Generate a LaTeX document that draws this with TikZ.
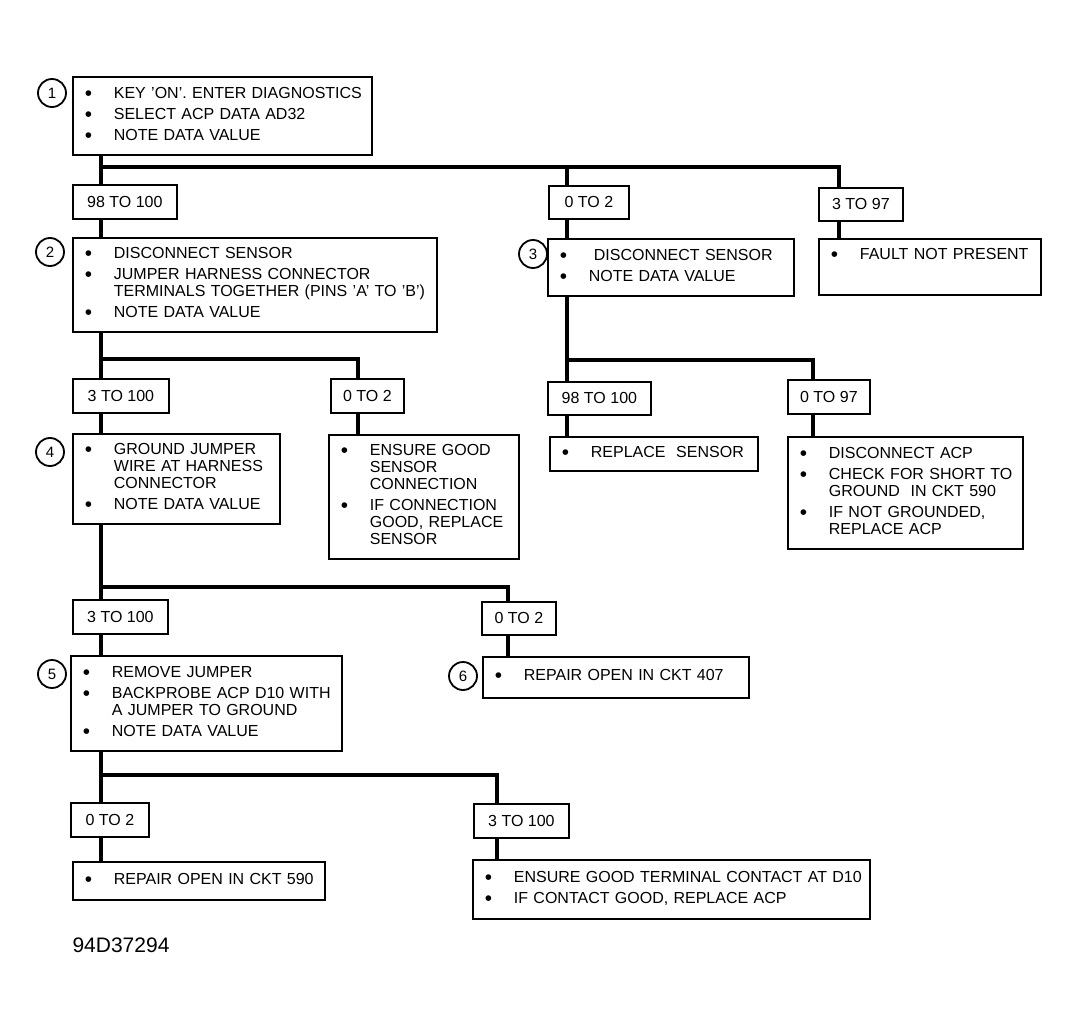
\documentclass[tikz,border=0pt]{standalone}
\usepackage{fontspec}
\setmainfont{Liberation Sans}
\usepackage{graphicx}
\tikzset{>=latex}
\tikzset{
  stepbox/.style={draw, line width=1.8pt, anchor=north west, align=left,
    inner xsep=12pt, inner ysep=0pt, font=\fontsize{16}{17}\selectfont},
  rangebox/.style={draw, line width=1.8pt, anchor=north west, inner sep=0pt,
    font=\fontsize{16}{17}\selectfont},
  num/.style={draw, circle, line width=1.8pt, minimum size=28pt, inner sep=0pt,
    font=\fontsize{15}{15}\selectfont},
  wire/.style={line width=4pt}
}
\newcommand{\bul}{\raisebox{-2pt}{\scalebox{1.3}{\textbullet}}}
\newcommand{\steplist}[1]{\begin{tabular}{@{}p{29pt}@{}l@{}}#1\end{tabular}}

\begin{document}
\begin{tikzpicture}[x=1pt,y=-1pt]
\useasboundingbox (0,0) rectangle (1077,1030);

% test steps
\node[stepbox, text width=275pt, minimum height=78pt] (b1) at (72,76) {\steplist{%
  \bul & KEY 'ON'. ENTER DIAGNOSTICS\\[4pt]
  \bul & SELECT ACP DATA AD32\\[4pt]
  \bul & NOTE DATA VALUE}};
\node[stepbox, text width=340pt, minimum height=94pt] (b2) at (72,237) {\steplist{%
  \bul & DISCONNECT SENSOR\\[4pt]
  \bul & JUMPER HARNESS CONNECTOR\\
       & TERMINALS TOGETHER (PINS 'A' TO 'B')\\[4pt]
  \bul & NOTE DATA VALUE}};
\node[stepbox, text width=222pt, minimum height=57pt] (b3) at (547,238) {\steplist{%
  \bul & \hspace*{5pt}DISCONNECT SENSOR\\[4pt]
  \bul & NOTE DATA VALUE}};
\node[stepbox, text width=198pt, minimum height=56pt] (b3r) at (818,238) {\steplist{%
  \bul & FAULT NOT PRESENT\\[4pt]
       & }};
\node[stepbox, text width=183pt, minimum height=90pt] (b4) at (72,433) {\steplist{%
  \bul & GROUND JUMPER\\
       & WIRE AT HARNESS\\
       & CONNECTOR\\[4pt]
  \bul & NOTE DATA VALUE}};
\node[stepbox, text width=166pt, minimum height=124pt] (b4r) at (328,434) {\steplist{%
  \bul & ENSURE GOOD\\
       & SENSOR\\
       & CONNECTION\\[4pt]
  \bul & IF CONNECTION\\
       & GOOD, REPLACE\\
       & SENSOR}};
\node[stepbox, text width=184pt, minimum height=34pt] (b3a) at (549,436) {\steplist{%
  \bul & REPLACE~ SENSOR}};
\node[stepbox, text width=211pt, minimum height=112pt] (b3b) at (787,436) {\steplist{%
  \bul & DISCONNECT ACP\\[4pt]
  \bul & CHECK FOR SHORT TO\\
       & GROUND~ IN CKT 590\\[4pt]
  \bul & IF NOT GROUNDED,\\
       & REPLACE ACP}};
\node[stepbox, text width=247pt, minimum height=95pt] (b5) at (70,655) {\steplist{%
  \bul & REMOVE JUMPER\\[4pt]
  \bul & BACKPROBE ACP D10 WITH\\
       & A JUMPER TO GROUND\\[4pt]
  \bul & NOTE DATA VALUE}};
\node[stepbox, text width=242pt, minimum height=41pt] (b6) at (482,656) {\steplist{%
  \bul & REPAIR OPEN IN CKT 407}};
\node[stepbox, text width=228pt, minimum height=38pt] (b5a) at (72,861) {\steplist{%
  \bul & REPAIR OPEN IN CKT 590}};
\node[stepbox, text width=373pt, minimum height=59pt] (b5b) at (472,859) {\steplist{%
  \bul & ENSURE GOOD TERMINAL CONTACT AT D10\\[4pt]
  \bul & IF CONTACT GOOD, REPLACE ACP}};

% step numbers
\node[num] (c1) at (52,93) {1};
\node[num] (c2) at (50,252) {2};
\node[num] (c3) at (533,254) {3};
\node[num] (c4) at (50,452) {4};
\node[num] (c5) at (52,674) {5};
\node[num] (c6) at (463,676) {6};

% data value ranges
\node[rangebox, minimum width=104pt, minimum height=34pt] (r1a) at (72,184) {98 TO 100};
\node[rangebox, minimum width=80pt, minimum height=33pt] (r1b) at (548,185) {0 TO 2};
\node[rangebox, minimum width=84pt, minimum height=33pt] (r1c) at (818,187) {3 TO 97};
\node[rangebox, minimum width=96pt, minimum height=34pt] (r2a) at (72,378) {3 TO 100};
\node[rangebox, minimum width=73pt, minimum height=34pt] (r2b) at (330,378) {0 TO 2};
\node[rangebox, minimum width=103pt, minimum height=33pt] (r3a) at (547,381) {98 TO 100};
\node[rangebox, minimum width=82pt, minimum height=34pt] (r3b) at (787,379) {0 TO 97};
\node[rangebox, minimum width=95pt, minimum height=34pt] (r4a) at (72,599) {3 TO 100};
\node[rangebox, minimum width=74pt, minimum height=33pt] (r4b) at (481,601) {0 TO 2};
\node[rangebox, minimum width=78pt, minimum height=34pt] (r5a) at (70,802) {0 TO 2};
\node[rangebox, minimum width=95pt, minimum height=34pt] (r5b) at (473,803) {3 TO 100};

\node[anchor=west, font=\fontsize{21}{21}\selectfont] (tag) at (69,945) {94D37294};

% branch points
\coordinate (j1) at (101,167);
\coordinate (j1b) at (567,167);
\coordinate (j1c) at (839,167);
\coordinate (j2) at (101,359);
\coordinate (j2b) at (358,359);
\coordinate (j3) at (567,360);
\coordinate (j3b) at (813,360);
\coordinate (j4) at (101,587);
\coordinate (j4b) at (508,587);
\coordinate (j5) at (101,775);
\coordinate (j5b) at (497,775);

\draw[wire] (b1.south -| j1) -- (r1a.north -| j1);
\draw[wire] (j1) -- (j1c) -- (r1c.north -| j1c);
\draw[wire] (j1b) -- (r1b.north -| j1b);
\draw[wire] (r1a.south -| j1) -- (b2.north -| j1);
\draw[wire] (r1b.south -| j1b) -- (b3.north -| j1b);
\draw[wire] (r1c.south -| j1c) -- (b3r.north -| j1c);

\draw[wire] (b2.south -| j2) -- (r2a.north -| j2);
\draw[wire] (j2) -- (j2b) -- (r2b.north -| j2b);
\draw[wire] (r2a.south -| j2) -- (b4.north -| j2);
\draw[wire] (r2b.south -| j2b) -- (b4r.north -| j2b);

\draw[wire] (b3.south -| j3) -- (r3a.north -| j3);
\draw[wire] (j3) -- (j3b) -- (r3b.north -| j3b);
\draw[wire] (r3a.south -| j3) -- (b3a.north -| j3);
\draw[wire] (r3b.south -| j3b) -- (b3b.north -| j3b);

\draw[wire] (b4.south -| j4) -- (r4a.north -| j4);
\draw[wire] (j4) -- (j4b) -- (r4b.north -| j4b);
\draw[wire] (r4a.south -| j4) -- (b5.north -| j4);
\draw[wire] (r4b.south -| j4b) -- (b6.north -| j4b);

\draw[wire] (b5.south -| j5) -- (r5a.north -| j5);
\draw[wire] (j5) -- (j5b) -- (r5b.north -| j5b);
\draw[wire] (r5a.south -| j5) -- (b5a.north -| j5);
\draw[wire] (r5b.south -| j5b) -- (b5b.north -| j5b);

\end{tikzpicture}
\end{document}
